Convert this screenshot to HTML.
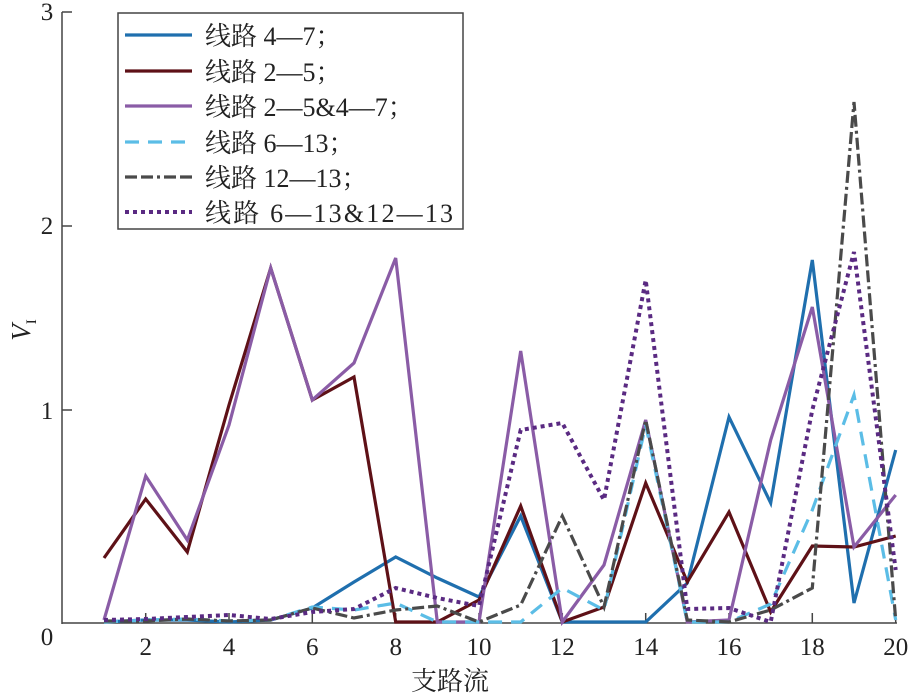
<!DOCTYPE html>
<html><head><meta charset="utf-8"><style>
body{margin:0;background:#fff}
svg{display:block}
text{font-family:"Liberation Serif","Noto Serif CJK SC","Noto Sans CJK SC",serif;fill:#222}
</style></head><body>
<svg width="911" height="697" viewBox="0 0 911 697" xmlns="http://www.w3.org/2000/svg">
<g stroke="#444" stroke-width="1.5" fill="none">
<line x1="62" y1="12" x2="62" y2="624"/>
<line x1="62" y1="623" x2="897" y2="623"/>
<line x1="62" y1="12" x2="72" y2="12"/>
<line x1="62" y1="226" x2="72" y2="226"/>
<line x1="62" y1="410" x2="72" y2="410"/>
<line x1="145.7" y1="623" x2="145.7" y2="613"/>
<line x1="229" y1="623" x2="229" y2="613"/>
<line x1="312.3" y1="623" x2="312.3" y2="613"/>
<line x1="395.7" y1="623" x2="395.7" y2="613"/>
<line x1="479" y1="623" x2="479" y2="613"/>
<line x1="562.3" y1="623" x2="562.3" y2="613"/>
<line x1="645.7" y1="623" x2="645.7" y2="613"/>
<line x1="729" y1="623" x2="729" y2="613"/>
<line x1="812.3" y1="623" x2="812.3" y2="613"/>
<line x1="895.7" y1="623" x2="895.7" y2="613"/>
</g>
<g font-size="25" text-anchor="middle">
<text x="47" y="20">3</text><text x="47" y="234">2</text><text x="47" y="419">1</text><text x="47" y="645">0</text>
<text x="145.7" y="655">2</text><text x="229" y="655">4</text><text x="312.3" y="655">6</text><text x="395.7" y="655">8</text>
<text x="479" y="655">10</text><text x="562.3" y="655">12</text><text x="645.7" y="655">14</text><text x="729" y="655">16</text>
<text x="812.3" y="655">18</text><text x="895.7" y="655">20</text>
<text x="450" y="690" font-size="26">支路流</text>
</g>
<text transform="translate(30,330) rotate(-90)" font-size="27" font-style="italic" text-anchor="middle">V<tspan font-size="15" font-style="normal" dy="6">I</tspan></text>
<g fill="none" stroke-width="3.2" stroke-linejoin="miter">
<polyline stroke="#1f6fae" points="104,622 145.7,620 187.3,620 229,622 270.7,620 312.3,608 354,582 395.7,557 437.3,578 479,597 520.7,516 562.3,622 604,622 645.7,622 687.3,583 729,417 770.7,503 812.3,260 854,603 895.7,450"/>
<polyline stroke="#5e1117" points="104,558 145.7,499 187.3,552 229,405 270.7,268 312.3,400 354,377 395.7,622 437.3,622 479,600 520.7,506 562.3,622 604,607 645.7,483 687.3,582 729,512 770.7,612 812.3,546 854,547 895.7,536"/>
<polyline stroke="#8a5ca6" points="104,620 145.7,476 187.3,540 229,425 270.7,268 312.3,400 354,363 395.7,258 437.3,622 479,622 520.7,351 562.3,622 604,565 645.7,420 687.3,622 729,620 770.7,440 812.3,307 854,547 895.7,495"/>
<polyline stroke="#5bbde6" stroke-dasharray="14,9" points="104,622 145.7,620 187.3,619 229,621 270.7,620 312.3,607 354,610 395.7,603 437.3,622 479,622 520.7,622 562.3,588 604,610 645.7,425 687.3,622 729,622 770.7,604 812.3,510 854,395 895.7,620"/>
<polyline stroke="#4a4a4a" stroke-dasharray="12,4,12,4,3,4" points="104,621 145.7,621 187.3,619 229,621 270.7,620 312.3,608 354,618 395.7,610 437.3,606 479,622 520.7,605 562.3,516 604,607 645.7,420 687.3,620 729,622 770.7,610 812.3,588 854,102 895.7,620"/>
<polyline stroke="#5a2a82" stroke-width="4" stroke-dasharray="4,4" points="104,620 145.7,619 187.3,617 229,615 270.7,619 312.3,612 354,609 395.7,588 437.3,598 479,606 520.7,430 562.3,423 604,500 645.7,280 687.3,609 729,608 770.7,622 812.3,410 854,252 895.7,570"/>
</g>
<rect x="118" y="13" width="345" height="216" fill="#fff" stroke="#444" stroke-width="1.5"/>
<g stroke-width="3.2" fill="none">
<line x1="125" y1="35" x2="192" y2="35" stroke="#1f6fae"/>
<line x1="125" y1="71" x2="192" y2="71" stroke="#5e1117"/>
<line x1="125" y1="106" x2="192" y2="106" stroke="#8a5ca6"/>
<line x1="125" y1="142" x2="192" y2="142" stroke="#5bbde6" stroke-dasharray="14,9"/>
<line x1="125" y1="177" x2="192" y2="177" stroke="#4a4a4a" stroke-dasharray="12,4,12,4,3,4"/>
<line x1="125" y1="212" x2="192" y2="212" stroke="#5a2a82" stroke-width="4" stroke-dasharray="4,4"/>
</g>
<g font-size="26">
<text x="205" y="45">线路 4—7；</text>
<text x="205" y="81">线路 2—5；</text>
<text x="205" y="116">线路 2—5&amp;4—7；</text>
<text x="205" y="152">线路 6—13；</text>
<text x="205" y="187">线路 12—13；</text>
<text x="205" y="222" textLength="248">线路 6—13&amp;12—13</text>
</g>
</svg>
</body></html>
